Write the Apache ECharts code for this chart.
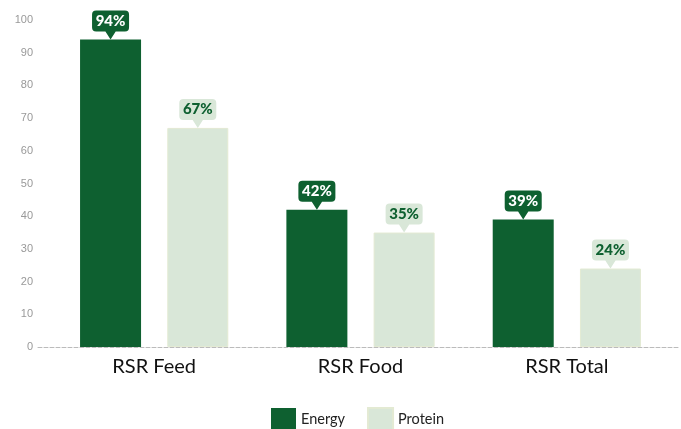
<!DOCTYPE html>
<html><head><meta charset="utf-8">
<script src="https://cdn.jsdelivr.net/npm/echarts@6/dist/echarts.min.js"></script>
<style>html,body{margin:0;padding:0;background:#fff}#c{width:681px;height:429px}</style>
</head><body><div id="c"></div>
<script>
const categories = ['RSR Feed', 'RSR Food', 'RSR Total'];
const energy = [94, 42, 39];
const protein = [67, 35, 24];
const yTicks = [0, 10, 20, 30, 40, 50, 60, 70, 80, 90, 100];

const DARK = '#0e6030';
const LIGHT = '#d9e7d8';
const bubble = 'path://M4,0 L32,0 Q36,0 36,4 L36,17 Q36,21 32,21 L23,21 L18,29 L13,21 L4,21 Q0,21 0,17 L0,4 Q0,0 4,0 Z';

function marks(vals, bg, fg) {
  return {
    symbol: bubble,
    symbolSize: [37, 29],
    symbolOffset: [0, '-50%'],
    symbolKeepAspect: false,
    silent: true,
    itemStyle: { color: bg },
    label: {
      show: true, position: 'inside', offset: [0, -4],
      color: fg, fontFamily: 'Lato', fontWeight: 900, fontSize: 15,
      formatter: p => p.value + '%'
    },
    data: vals.map((v, i) => ({ coord: [categories[i], v], value: v }))
  };
}

const chart = echarts.init(document.getElementById('c'));
chart.setOption({
  animation: false,
  grid: [
    { left: 51, right: 11, top: 20, bottom: 82 },
    { left: 38, right: 1, top: 20, bottom: 82 }
  ],
  legend: {
    top: 402, left: 266,
    itemWidth: 25, itemHeight: 22, itemGap: 22,
    icon: 'rect',
    textStyle: { fontFamily: 'Lato', fontSize: 14.5, color: '#222' },
    data: ['Energy', 'Protein']
  },
  xAxis: [
    {
      type: 'category', data: categories, gridIndex: 0,
      axisLine: { show: false }, axisTick: { show: false },
      axisLabel: { fontFamily: 'Lato', fontSize: 20, color: '#111', margin: 10 }
    },
    {
      type: 'value', gridIndex: 1, min: 0, max: 1,
      axisLine: { show: true, lineStyle: { color: '#bbb', type: 'dashed', width: 1 } },
      axisTick: { show: false }, axisLabel: { show: false }, splitLine: { show: false }
    }
  ],
  yAxis: [
    {
      type: 'value', gridIndex: 0, min: 0, max: 100, interval: 10,
      axisLine: { show: false }, axisTick: { show: false }, splitLine: { show: false },
      axisLabel: { color: '#999', fontSize: 11, fontFamily: 'Liberation Sans', margin: 18,
        formatter: v => yTicks.includes(v) ? String(v) : '' }
    },
    {
      type: 'value', gridIndex: 1, min: 0, max: 1, show: false
    }
  ],
  series: [
    {
      name: 'Energy', type: 'bar', data: energy, barWidth: 61, barGap: '43%',
      itemStyle: { color: DARK },
      markPoint: marks(energy, DARK, '#fff')
    },
    {
      name: 'Protein', type: 'bar', data: protein, barWidth: 61,
      itemStyle: { color: LIGHT, borderColor: '#e3ead3', borderWidth: 1 },
      markPoint: marks(protein, LIGHT, DARK)
    }
  ]
});
</script></body></html>
